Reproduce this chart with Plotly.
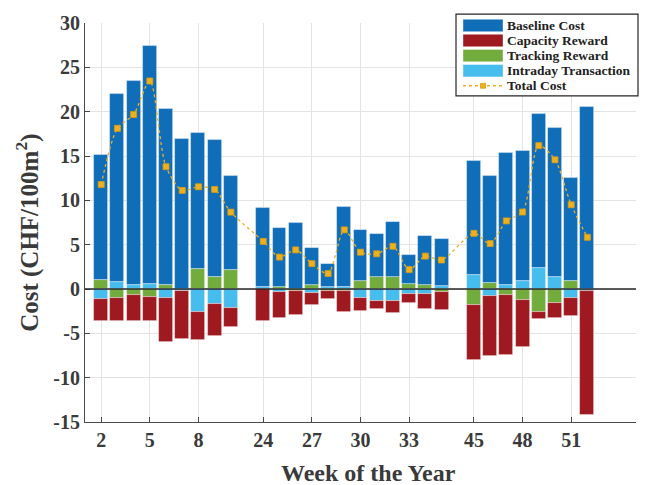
import plotly.graph_objects as go

weeks = [2, 3, 4, 5, 6, 7, 8, 9, 10,
         24, 25, 26, 27, 28, 29, 30, 31, 32, 33, 34, 35,
         45, 46, 47, 48, 49, 50, 51, 52]

baseline = [14.09, 21.17, 23.01, 26.80, 19.86, 16.94, 15.34, 15.35, 10.68,
            8.94, 6.67, 7.48, 4.15, 2.60, 9.08, 5.78, 4.88, 6.22, 3.26, 5.48, 5.30,
            12.80, 12.05, 14.91, 14.68, 17.31, 16.75, 11.72, 20.50]

capacity = [-2.49, -2.56, -2.93, -2.70, -4.97, -5.38, -3.12, -3.60, -2.15,
            -3.65, -2.90, -2.78, -1.34, -0.96, -2.45, -1.48, -0.89, -1.30, -1.00, -1.70, -2.04,
            -6.12, -6.68, -6.79, -5.30, -0.74, -1.63, -2.00, -14.00]

tracking = [1.03, -1.07, -0.67, -0.89, 0.48, 0.00, 2.23, 1.41, 2.11,
            0.00, 0.19, -0.20, 0.45, -0.20, -0.19, 0.85, 1.34, 1.30, 0.56, 0.45, -0.37,
            -1.85, 0.67, -0.70, -1.19, -2.60, -1.60, 0.85, 0.00]

intraday = [-1.15, 0.81, 0.45, 0.59, -1.04, -0.26, -2.60, -1.67, -2.19,
            0.22, -0.33, 0.00, -0.48, 0.22, 0.22, -1.00, -1.37, -1.37, -0.59, -0.56, 0.33,
            1.59, -0.82, 0.48, 0.85, 2.41, 1.37, -1.00, -0.20]

total = [11.78, 18.12, 19.68, 23.46, 13.79, 11.12, 11.53, 11.23, 8.67,
         5.37, 3.60, 4.41, 2.86, 1.74, 6.67, 4.15, 3.97, 4.82, 2.19, 3.71, 3.27,
         6.28, 5.12, 7.68, 8.68, 16.17, 14.57, 9.50, 5.83]

tick_weeks = [2, 5, 8, 24, 27, 30, 33, 45, 48, 51]
y_ticks = [-15, -10, -5, 0, 5, 10, 15, 20, 25, 30]

series_names = ["Baseline Cost", "Capacity Reward", "Tracking Reward", "Intraday Transaction", "Total Cost"]
x_title = "Week of the Year"
y_title = "Cost (CHF/100m<sup>2</sup>)"

# slot positions: consecutive weeks adjacent, one empty slot between groups
slots = []
s = 0
for i, w in enumerate(weeks):
    if i > 0:
        s += 1 if w - weeks[i - 1] == 1 else 2
    slots.append(s)
tickvals = [slots[weeks.index(w)] for w in tick_weeks]

FONT = "Liberation Serif"
TXT = "#3a3a3a"
C_BASE, C_CAP, C_TRK, C_INT, C_TOT = "#106DB8", "#9E1A20", "#72AC3C", "#47BDEE", "#EDB120"
edge = dict(color="rgba(255,255,255,0.45)", width=0.8)
bw = 0.86

W, H = 667, 485
ML, MR, MT, MB = 85, 31, 17, 63
PW, PH = W - ML - MR, H - MT - MB


def px(x):
    return (x - ML) / PW


def py(y):
    return (H - MB - y) / PH


fig = go.Figure()
fig.add_trace(go.Bar(x=slots, y=tracking, name=series_names[2], marker=dict(color=C_TRK, line=edge), width=bw))
fig.add_trace(go.Bar(x=slots, y=intraday, name=series_names[3], marker=dict(color=C_INT, line=edge), width=bw))
fig.add_trace(go.Bar(x=slots, y=baseline, name=series_names[0], marker=dict(color=C_BASE, line=edge), width=bw))
fig.add_trace(go.Bar(x=slots, y=capacity, name=series_names[1], marker=dict(color=C_CAP, line=edge), width=bw))
fig.add_trace(go.Scatter(x=slots, y=total, name=series_names[4], mode="lines+markers",
                         line=dict(color=C_TOT, width=1.3, dash="dot", shape="spline", smoothing=0.8),
                         marker=dict(symbol="square", size=6, color=C_TOT,
                                     line=dict(color="#D99A10", width=0.8))))

shapes = [dict(type="line", xref="paper", x0=0, x1=1, yref="y", y0=0, y1=0,
               line=dict(color="#262626", width=1.5), layer="above")]
annotations = []

# legend box (drawn manually for compact MATLAB-like layout)
LX0, LX1, LY0, LY1 = 456, 638, 8, 91
ROW0, ROWSTEP = 19.5, 15.3
shapes.append(dict(type="rect", xref="paper", yref="paper", x0=px(LX0), x1=px(LX1), y0=py(LY1), y1=py(LY0),
                   fillcolor="white", line=dict(color="#262626", width=1.2), layer="above"))
sw_colors = [C_BASE, C_CAP, C_TRK, C_INT]
for i, name in enumerate(series_names):
    yc = ROW0 + ROWSTEP * i
    if i < 4:
        shapes.append(dict(type="rect", xref="paper", yref="paper", x0=px(463), x1=px(503),
                           y0=py(yc + 6.3), y1=py(yc - 6.3), fillcolor=sw_colors[i],
                           line=dict(color="rgba(255,255,255,0.5)", width=0.8), layer="above"))
    else:
        shapes.append(dict(type="line", xref="paper", yref="paper", x0=px(463), x1=px(503),
                           y0=py(yc), y1=py(yc), line=dict(color=C_TOT, width=1.3, dash="dot"), layer="above"))
        shapes.append(dict(type="rect", xref="paper", yref="paper", x0=px(480.5), x1=px(485.5),
                           y0=py(yc + 2.5), y1=py(yc - 2.5), fillcolor=C_TOT,
                           line=dict(color="#D99A10", width=0.8), layer="above"))
    annotations.append(dict(text=name, xref="paper", yref="paper", x=px(505), y=py(yc),
                            xanchor="left", yanchor="middle", showarrow=False,
                            font=dict(family=FONT, size=13.5, color="#222222", weight="bold")))

# axis titles as annotations (placed like the MATLAB labels)
annotations.append(dict(text=x_title, xref="paper", yref="paper", x=px(368), y=py(473.5),
                        xanchor="center", yanchor="middle", showarrow=False, borderpad=0,
                        font=dict(family=FONT, size=24, color=TXT, weight="bold")))
annotations.append(dict(text=y_title, xref="paper", yref="paper", x=px(28), y=py(230),
                        xanchor="center", yanchor="middle", showarrow=False, textangle=-90,
                        font=dict(family=FONT, size=25, color=TXT, weight="bold")))

axis_common = dict(
    showgrid=True, gridcolor="#e3e3e3", gridwidth=1,
    showline=True, linecolor="#4a4a4a", linewidth=1,
    ticks="inside", ticklen=5, tickcolor="#4a4a4a", tickwidth=1,
    tickfont=dict(family=FONT, size=20, color=TXT, weight="bold"),
    zeroline=False, mirror=False,
)

fig.update_layout(
    width=W, height=H,
    margin=dict(l=ML, r=MR, t=MT, b=MB),
    paper_bgcolor="white", plot_bgcolor="white",
    barmode="relative", bargap=0,
    showlegend=False,
    shapes=shapes, annotations=annotations,
    xaxis=dict(axis_common, range=[-1, 33], tickvals=tickvals, ticktext=[str(w) for w in tick_weeks]),
    yaxis=dict(axis_common, range=[-15, 30], tickvals=y_ticks, ticktext=[str(v) for v in y_ticks]),
)

fig.write_html("out.html")
